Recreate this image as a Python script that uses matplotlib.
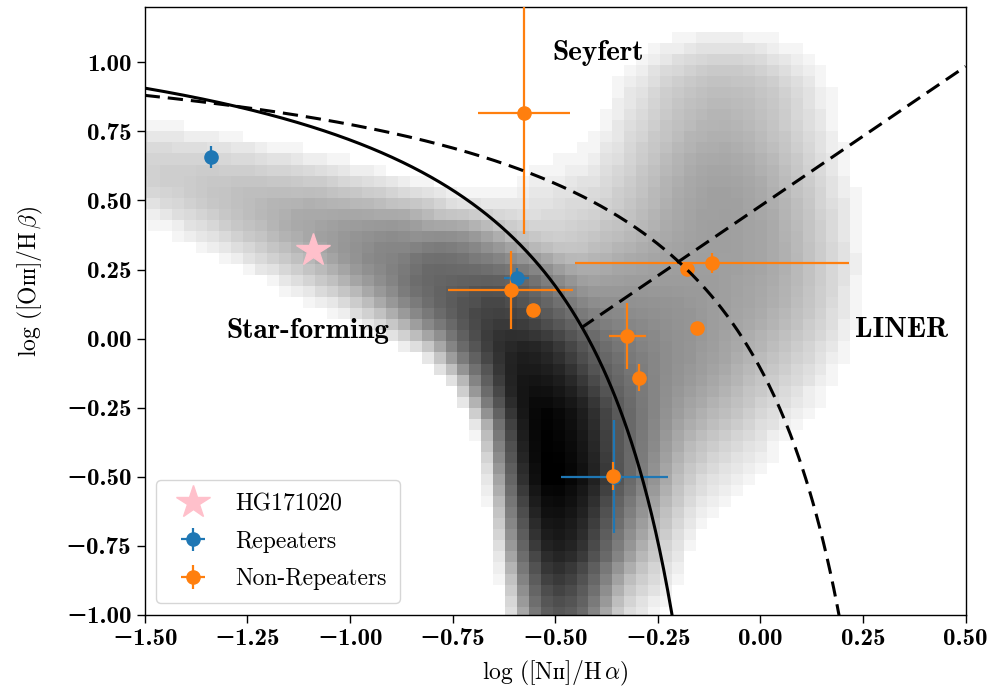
import numpy as np
import matplotlib
matplotlib.use('Agg')
import matplotlib.pyplot as plt
from matplotlib.colors import LogNorm
from matplotlib.ticker import FixedLocator, FuncFormatter

plt.rcParams['mathtext.fontset'] = 'cm'
plt.rcParams['font.family'] = ['cmr10', 'DejaVu Serif']

# ---- FRB host samples ----
hg_x = [-1.089]
hg_y = [0.321]

rep_x    = [-1.338, -0.594, -0.356]
rep_y    = [0.657, 0.220, -0.499]
rep_xerr = [0.0, 0.03, 0.13]
rep_yerr = [0.04, 0.035, 0.205]

nonrep_x    = [-0.576, -0.608, -0.555, -0.179, -0.118, -0.155, -0.324, -0.295, -0.360]
nonrep_y    = [0.817, 0.176, 0.102, 0.251, 0.275, 0.038, 0.010, -0.141, -0.496]
nonrep_xerr = [0.113, 0.152, 0.0, 0.0, 0.334, 0.0, 0.046, 0.0, 0.0]
nonrep_yerr = [0.44, 0.14, 0.0, 0.0, 0.036, 0.0, 0.12, 0.05, 0.05]

# ---- background galaxy density (rough description of the SDSS locus) ----
sf_ridge_x    = [-1.60, -1.35, -1.10, -0.90, -0.78, -0.66, -0.58, -0.53, -0.51, -0.50, -0.49]
sf_ridge_y    = [0.66, 0.56, 0.42, 0.30, 0.21, 0.09, -0.08, -0.28, -0.50, -0.75, -1.05]
sf_ridge_wl   = [0.09, 0.10, 0.10, 0.092, 0.084, 0.07, 0.056, 0.046, 0.043, 0.042, 0.04]
sf_ridge_wr   = [0.09, 0.10, 0.105, 0.105, 0.105, 0.10, 0.09, 0.08, 0.075, 0.065, 0.05]
sf_ridge_peak = [8, 14, 35, 90, 220, 550, 1300, 2600, 3000, 1300, 250]

agn_x    = [-0.36, -0.20, -0.10, -0.08, 0.03, -0.50]
agn_y    = [-0.30, 0.00, 0.55, 0.90, 0.20, 0.40]
agn_sx   = [0.08, 0.12, 0.13, 0.12, 0.10, 0.10]
agn_sy   = [0.28, 0.25, 0.22, 0.10, 0.22, 0.15]
agn_peak = [120, 50, 35, 10, 20, 6]

# demarcation lines
KAUFF = (0.61, 0.05, 1.3)
KEWLEY = (0.61, 0.47, 1.19)
SEY_LIN = (1.01, 0.48)

xe = np.arange(-1.55, 0.56, 0.029)
ye = np.arange(-1.05, 1.26, 0.04)
X, Y = np.meshgrid(0.5 * (xe[1:] + xe[:-1]), 0.5 * (ye[1:] + ye[:-1]))

sf = np.zeros_like(X)
for i in range(len(sf_ridge_x) - 1):
    x0, y0 = sf_ridge_x[i], sf_ridge_y[i]
    dx, dy = sf_ridge_x[i + 1] - x0, sf_ridge_y[i + 1] - y0
    t = np.clip(((X - x0) * dx + (Y - y0) * dy) / (dx * dx + dy * dy), 0, 1)
    d = np.hypot(X - (x0 + t * dx), Y - (y0 + t * dy))
    wl = sf_ridge_wl[i] + t * (sf_ridge_wl[i + 1] - sf_ridge_wl[i])
    wr = sf_ridge_wr[i] + t * (sf_ridge_wr[i + 1] - sf_ridge_wr[i])
    upper = (dx * (Y - y0) - dy * (X - x0)) > 0
    w = np.where(upper, wr, wl)
    lp = np.log(sf_ridge_peak[i]) + t * (np.log(sf_ridge_peak[i + 1]) - np.log(sf_ridge_peak[i]))
    sf = np.maximum(sf, np.exp(lp) * np.exp(-0.5 * (d / w) ** 2))

agn = np.zeros_like(X)
for bx, by, sx, sy, pk in zip(agn_x, agn_y, agn_sx, agn_sy, agn_peak):
    agn += pk * np.exp(-0.5 * (((X - bx) / sx) ** 2 + ((Y - by) / sy) ** 2))

counts = np.floor(sf + agn)
counts = np.ma.masked_less(counts, 1)

fig = plt.figure(figsize=(10.04, 6.86), dpi=100)
ax = fig.add_axes([0.1441, 0.1035, 0.8177, 0.8863])

ax.pcolormesh(xe, ye, counts, cmap='Greys', norm=LogNorm(vmin=1, vmax=counts.max()),
              rasterized=True, zorder=0)

eb_kw = dict(fmt='o', ms=9.5, elinewidth=1.6, capsize=0, zorder=3)
ax.errorbar(rep_x, rep_y, xerr=rep_xerr, yerr=rep_yerr, color='#1f77b4', label='Repeaters', **eb_kw)
ax.errorbar(nonrep_x, nonrep_y, xerr=nonrep_xerr, yerr=nonrep_yerr, color='#ff7f0e',
            label='Non-Repeaters', **eb_kw)
ax.plot(hg_x, hg_y, '*', color='pink', ms=25, ls='none', label='HG171020', zorder=3)

# Kauffmann (solid), Kewley (dashed), Seyfert/LINER (dashed)
xk = np.linspace(-1.5, -0.2, 400)
ax.plot(xk, KAUFF[0] / (xk - KAUFF[1]) + KAUFF[2], color='k', lw=2.2, zorder=4)
xw = np.linspace(-1.5, 0.2, 400)
ax.plot(xw, KEWLEY[0] / (xw - KEWLEY[1]) + KEWLEY[2], color='k', lw=2.2, ls=(0, (5, 2.6)), zorder=4)
xs = np.linspace(-0.437, 0.5, 100)
ax.plot(xs, SEY_LIN[0] * xs + SEY_LIN[1], color='k', lw=2.2, ls=(0, (5, 2.6)), zorder=4)

ax.set_xlim(-1.5, 0.5)
ax.set_ylim(-1.0, 1.2)
ax.xaxis.set_major_locator(FixedLocator(np.arange(-1.5, 0.51, 0.25)))
ax.yaxis.set_major_locator(FixedLocator(np.arange(-1.0, 1.01, 0.25)))
fmt = FuncFormatter(lambda v, p: ('%.2f' % v).replace('-', '\u2212') if abs(v) > 1e-9 else '0.00')
ax.xaxis.set_major_formatter(fmt)
ax.yaxis.set_major_formatter(fmt)
ax.tick_params(labelsize=18, length=5.5, width=1.0, pad=4)
for lab in ax.get_xticklabels() + ax.get_yticklabels():
    lab.set_family(['cmb10', 'DejaVu Serif'])
for sp in ax.spines.values():
    sp.set_linewidth(1.0)

ax.set_xlabel(r'$\log\,([\mathrm{Nɪɪ}]/\mathrm{H}\,\alpha)$', fontsize=17, labelpad=6)
ax.set_ylabel(r'$\log\,([\mathrm{Oɪɪɪ}]/\mathrm{H}\,\beta)$', fontsize=17)
ax.yaxis.set_label_coords(-0.121, 0.549)

ax.text(-0.395, 1.008, 'Seyfert', family='cmb10', fontsize=21, ha='center', va='baseline')
ax.text(-1.103, 0.003, 'Star-forming', family='cmb10', fontsize=21, ha='center', va='baseline')
ax.text(0.343, 0.0065, 'LINER', family='cmb10', fontsize=21, ha='center', va='baseline')

h, l = ax.get_legend_handles_labels()
order = [l.index('HG171020'), l.index('Repeaters'), l.index('Non-Repeaters')]
ax.legend([h[i] for i in order], [l[i] for i in order], loc='lower left', fontsize=17,
          labelspacing=0.65, borderpad=0.55)

fig.savefig('out.png', dpi=100)
